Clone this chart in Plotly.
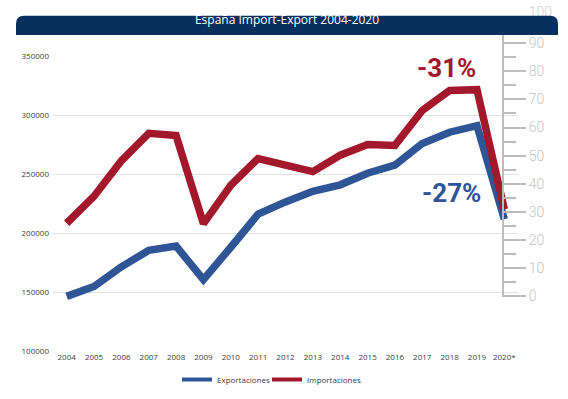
import plotly.graph_objects as go

years = ["2004", "2005", "2006", "2007", "2008", "2009", "2010", "2011", "2012",
         "2013", "2014", "2015", "2016", "2017", "2018", "2019", "2020*"]
exportaciones = [146300, 154700, 171400, 185300, 188900, 160500, 188000, 216000, 226400,
                 235400, 240900, 250700, 257600, 276000, 285500, 291000, 211700]
importaciones = [208300, 231200, 261300, 284600, 282600, 208000, 240500, 263200, 257600,
                 252100, 266000, 275100, 274300, 304000, 320800, 321600, 220000]
left_ticks = [100000, 150000, 200000, 250000, 300000, 350000]
right_ticks = [0, 10, 20, 30, 40, 50, 60, 70, 80, 90]
right_top_tick = [100]
title_text = "España Import-Export 2004-2020"
pct_exp = "-27%"
pct_imp = "-31%"

BLUE = "#2f5597"
RED = "#a3182b"
GRAY_AX = "#bdbdbd"
W, H = 568, 399
ML, MR, MT, MB = 53, 50, 0, 48
PW = W - ML - MR
PH = H - MT - MB

def py(pix):  # pixel y -> paper fraction
    return (PH - (pix - MT)) / PH

def px(pix):
    return (pix - ML) / PW

idx = list(range(len(years)))

fig = go.Figure()
fig.add_trace(go.Scatter(x=idx, y=exportaciones, mode="lines", name="Exportaciones",
                         line=dict(color=BLUE, width=7.5), showlegend=False, hoverinfo="skip"))
fig.add_trace(go.Scatter(x=idx, y=importaciones, mode="lines", name="Importaciones",
                         line=dict(color=RED, width=7.5), showlegend=False, hoverinfo="skip"))
# legend entries
fig.add_trace(go.Scatter(x=[None], y=[None], mode="lines", name="Exportaciones",
                         line=dict(color=BLUE, width=4), legend="legend"))
fig.add_trace(go.Scatter(x=[None], y=[None], mode="lines", name="Importaciones",
                         line=dict(color=RED, width=4), legend="legend2"))
# carriers for the decorative right scale
fig.add_trace(go.Scatter(x=[None], y=[None], yaxis="y2", showlegend=False, hoverinfo="skip"))
fig.add_trace(go.Scatter(x=[None], y=[None], yaxis="y3", showlegend=False, hoverinfo="skip"))

scale = 2.856
t0 = 295.0
y2_bot, y2_top = 296.0, 30.0

legend_common = dict(orientation="h", xanchor="left", y=py(380), yanchor="middle",
                     font=dict(size=8, color="#404040"), bgcolor="rgba(0,0,0,0)",
                     itemwidth=30)

fig.update_layout(
    width=W, height=H,
    margin=dict(l=ML, r=MR, t=MT, b=MB),
    paper_bgcolor="white", plot_bgcolor="rgba(0,0,0,0)",
    font=dict(family="Open Sans", color="#404040", size=8),
    xaxis=dict(range=[-0.5, len(years) - 0.5], tickmode="array", tickvals=idx, ticktext=years,
               showgrid=False, zeroline=False, showline=False, ticks="",
               tickfont=dict(size=8, color="#404040"), anchor="y"),
    yaxis=dict(domain=[0, py(51)], range=[100000, 350000], tickmode="array", tickvals=left_ticks,
               tickformat="d", showgrid=True, gridcolor="#e2e2e2", gridwidth=1,
               zeroline=False, showline=False, ticks="", ticklabelstandoff=3,
               tickfont=dict(size=8, color="#404040")),
    yaxis2=dict(domain=[py(y2_bot), py(y2_top)],
                range=[(t0 - y2_bot) / scale, (t0 - y2_top) / scale],
                anchor="free", position=px(503), side="right",
                tickmode="array", tickvals=right_ticks,
                showgrid=False, zeroline=False, showline=True, linecolor=GRAY_AX, linewidth=2,
                ticks="outside", ticklen=22, tickwidth=2, tickcolor=GRAY_AX,
                minor=dict(dtick=5, tick0=0, ticks="outside", ticklen=12, tickwidth=2, tickcolor=GRAY_AX),
                tickfont=dict(family="Roboto", size=14, color="#c4c4c4", weight=300)),
    yaxis3=dict(domain=[py(20), 1],
                range=[100 - (20 - 6) / scale, 100 + 6 / scale],
                anchor="free", position=px(503), side="right",
                tickmode="array", tickvals=right_top_tick,
                showgrid=False, zeroline=False, showline=False,
                ticks="outside", ticklen=22, tickwidth=1, tickcolor="rgba(0,0,0,0)",
                tickfont=dict(family="Roboto", size=14, color="#d0d0d0", weight=300)),
    legend=dict(x=px(177), **legend_common),
    legend2=dict(x=px(267), **legend_common),
    title=dict(text=title_text, x=287 / W, xref="container", xanchor="center",
               y=1 - 19.5 / H, yref="container", yanchor="middle",
               font=dict(family="Open Sans", size=12, color="white")),
    showlegend=True,
)

# rounded title bar
x0, x1 = px(16), px(558)
yt, yb = py(10), py(29.5)
rx, ry = 8 / PW, 8 / PH
path = (f"M {x0},{yb} L {x0},{yt - ry} Q {x0},{yt} {x0 + rx},{yt} "
        f"L {x1 - rx},{yt} Q {x1},{yt} {x1},{yt - ry} L {x1},{yb} Z")
fig.add_shape(type="path", path=path, xref="paper", yref="paper",
              fillcolor="#08305f", line=dict(width=0), layer="above")

fig.add_annotation(x=13.87, y=339800, xref="x", yref="y", text=pct_imp, showarrow=False,
                   font=dict(family="Roboto", size=26, color=RED, weight="bold"))
fig.add_annotation(x=14.08, y=234000, xref="x", yref="y", text=pct_exp, showarrow=False,
                   font=dict(family="Roboto", size=26, color=BLUE, weight="bold"))

fig.write_html("out.html", config={"displayModeBar": False},
               post_script="document.body.style.margin='0';")
